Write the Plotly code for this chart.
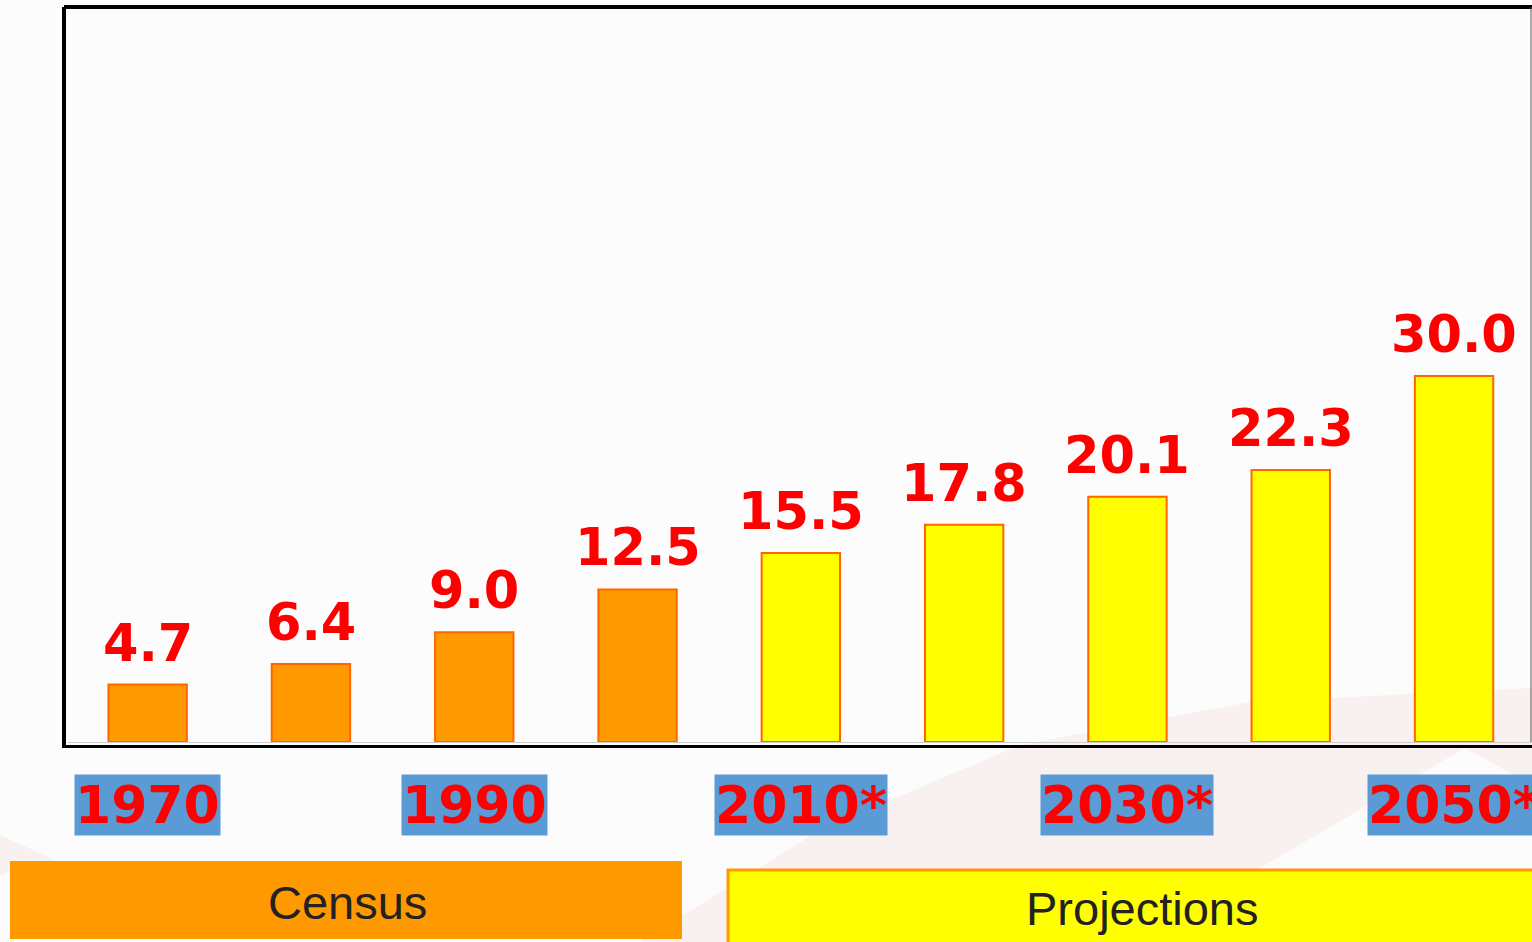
import plotly.graph_objects as go

years = ["1970", "1980", "1990", "2000", "2010*", "2020*", "2030*", "2040*", "2050*"]
values = [4.7, 6.4, 9.0, 12.5, 15.5, 17.8, 20.1, 22.3, 30.0]
value_labels = ["4.7", "6.4", "9.0", "12.5", "15.5", "17.8", "20.1", "22.3", "30.0"]
shown_ticks = ["1970", "1990", "2010*", "2030*", "2050*"]
groups = ["Census"] * 4 + ["Projections"] * 5

W, H = 1532, 942
L, T, B = 66, 7, 745
PW = W - L
PH = B - T

def px(x):
    return (x - L) / PW

def py(y):
    return (B - y) / PH

colors = ["#FF9900" if g == "Census" else "#FFFF00" for g in groups]

fig = go.Figure()
fig.add_trace(go.Bar(
    x=list(range(len(years))), y=values,
    width=0.48,
    marker=dict(color=colors, line=dict(color="#FF6600", width=2)),
    hoverinfo="skip",
))

annotations = []
for i, (v, lab) in enumerate(zip(values, value_labels)):
    annotations.append(dict(
        x=i, y=v, xref="x", yref="y", text=lab, showarrow=False,
        yanchor="bottom", yshift=10,
        font=dict(family="DejaVu Sans", size=51, color="#FF0000", weight="bold"),
    ))
for t in shown_ticks:
    i = years.index(t)
    annotations.append(dict(
        x=i, y=py(805), xref="x", yref="paper", text=t, showarrow=False,
        yanchor="middle", xanchor="center", bgcolor="#5B9BD5", borderpad=0,
        font=dict(family="DejaVu Sans", size=52, color="#FF0000", weight="bold"),
    ))
annotations.append(dict(
    x=px(347), y=py(902), xref="paper", yref="paper", text="Census", showarrow=False,
    xanchor="center", yanchor="middle",
    font=dict(family="Liberation Sans", size=47, color="#222222"),
))
annotations.append(dict(
    x=px(1142), y=py(908), xref="paper", yref="paper", text="Projections", showarrow=False,
    xanchor="center", yanchor="middle",
    font=dict(family="Liberation Sans", size=47, color="#222222"),
))

def poly(points):
    s = "M " + " L ".join(f"{px(x):.5f},{py(y):.5f}" for x, y in points) + " Z"
    return s

shapes = [
    # faint background swoosh
    dict(type="path", xref="paper", yref="paper", layer="below", line=dict(width=0),
         fillcolor="#F9F1F0",
         path=poly([(640, 942), (820, 830), (1020, 745), (1250, 702), (1532, 688),
                    (1532, 785), (1465, 748), (1260, 868), (1150, 942)])),
    dict(type="path", xref="paper", yref="paper", layer="below", line=dict(width=0),
         fillcolor="#F9F1F0",
         path=poly([(0, 835), (55, 860), (0, 875)])),
    # top frame
    dict(type="line", xref="paper", yref="paper", x0=px(64), x1=px(1532), y0=1, y1=1,
         line=dict(color="black", width=4)),
    # right thin edge
    dict(type="line", xref="paper", yref="paper", x0=px(1531), x1=px(1531), y0=py(742), y1=1,
         line=dict(color="#555555", width=1)),
    # light baseline
    dict(type="line", xref="paper", yref="paper", x0=px(68), x1=px(1532), y0=py(742.5), y1=py(742.5),
         line=dict(color="#CCCCCC", width=1)),
    # Census box
    dict(type="rect", xref="paper", yref="paper", x0=px(10), x1=px(682), y0=py(939), y1=py(861),
         fillcolor="#FF9900", line=dict(width=0)),
    # Projections box
    dict(type="rect", xref="paper", yref="paper", x0=px(728), x1=px(1545), y0=py(946), y1=py(870),
         fillcolor="#FFFF00", line=dict(color="#FF9900", width=3)),
]

fig.update_layout(
    width=W, height=H,
    margin=dict(l=L, r=0, t=T, b=H - B, pad=0),
    paper_bgcolor="#FCFCFC", plot_bgcolor="rgba(0,0,0,0)",
    showlegend=False,
    xaxis=dict(range=[-0.5, -0.5 + PW / 163.3], showticklabels=False, showgrid=False,
               zeroline=False, showline=True, linecolor="black", linewidth=3, ticks=""),
    yaxis=dict(range=[-0.25, 60.25], showticklabels=False, showgrid=False,
               zeroline=False, showline=True, linecolor="black", linewidth=4, ticks=""),
    annotations=annotations, shapes=shapes,
)
fig.write_html("out.html")
